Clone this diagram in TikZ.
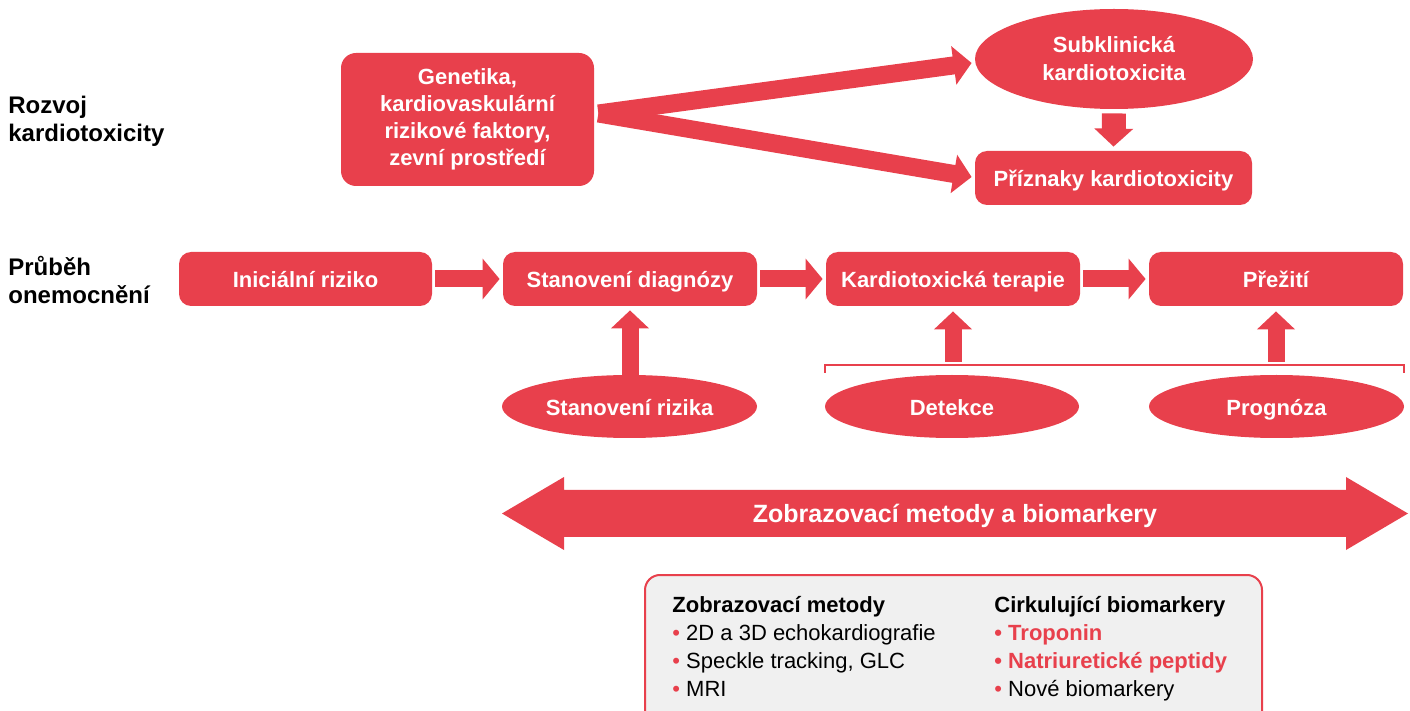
\documentclass[tikz,border=0pt]{standalone}
\usepackage{fontspec}
\setmainfont{Liberation Sans}
\usetikzlibrary{arrows.meta,shapes.geometric,calc}
\definecolor{kred}{RGB}{232,64,76}
\definecolor{kgray}{RGB}{240,240,240}
\begin{document}
\begin{tikzpicture}[x=0.5pt,y=-0.5pt,
  wfont/.style={font=\fontsize{11}{13.5}\selectfont\bfseries},
  oneline/.style={text height=11pt, text depth=2pt},
  rbox/.style={fill=kred, text=white, rounded corners=6pt, inner sep=0pt, align=center, wfont},
  rell/.style={ellipse, fill=kred, text=white, inner sep=0pt, align=center, wfont},
  lbl/.style={inner sep=0pt, align=left, font=\fontsize{12}{14}\selectfont\bfseries},
  btxt/.style={inner sep=0pt, align=left, font=\fontsize{11}{14}\selectfont},
  rowarr/.style={draw=kred, line width=8.5pt, -{Triangle[width=20pt,length=8.5pt]}, shorten <=1.5pt, shorten >=1.5pt},
  uparr/.style={draw=kred, line width=8.5pt, -{Triangle[width=18.5pt,length=9pt]}},
  downarr/.style={draw=kred, line width=12pt, -{Triangle[width=19pt,length=9pt]}, shorten <=2pt, shorten >=2pt},
  fanarr/.style={draw=kred, line width=9pt, -{Triangle[width=19pt,length=9pt]}},
]
\useasboundingbox (0,0) rectangle (1410,711);

% left labels
\node[lbl, anchor=west] (lab1) at (8,121) {Rozvoj\\kardiotoxicity};
\node[lbl, anchor=west] (lab2) at (8,280) {Průběh\\onemocnění};

% top part
\node[rbox, rounded corners=7.5pt, minimum width=126.5pt, minimum height=66.5pt] (gen) at (467.5,119.5)
  {Genetika,\\kardiovaskulární\\rizikové faktory,\\zevní prostředí};
\node[rell, font=\fontsize{11}{14}\selectfont\bfseries, minimum width=139pt, minimum height=50pt] (sub) at (1114,59) {Subklinická\\kardiotoxicita};
\node[rbox, oneline, minimum width=138.5pt, minimum height=27pt] (priz) at (1113.5,178) {Příznaky kardiotoxicity};

\coordinate (fanO) at ([shift={(2pt,3pt)}]gen.east);
\draw[fanarr] (fanO) -- ([shift={(-1.5pt,-2pt)}]sub.west);
\draw[fanarr] (fanO) -- ([shift={(-1.5pt,0.5pt)}]priz.west);
\draw[downarr] (sub.south) -- (priz.north);

% process row
\node[rbox, oneline, minimum width=126.5pt, minimum height=27pt] (ini) at (305.5,279) {Iniciální riziko};
\node[rbox, oneline, minimum width=127pt, minimum height=27pt] (diag) at (630,279) {Stanovení diagnózy};
\node[rbox, oneline, minimum width=127pt, minimum height=27pt] (kard) at (953,279) {Kardiotoxická terapie};
\node[rbox, oneline, minimum width=127pt, minimum height=27pt] (prez) at (1276,279) {Přežití};
\draw[rowarr] (ini) -- (diag);
\draw[rowarr] (diag) -- (kard);
\draw[rowarr] (kard) -- (prez);

% ellipses
\node[rell, oneline, minimum width=127.5pt, minimum height=31.5pt] (riz) at (629.5,406.5) {Stanovení rizika};
\node[rell, oneline, minimum width=127pt, minimum height=31.5pt] (det) at (952,406.5) {Detekce};
\node[rell, oneline, minimum width=127.5pt, minimum height=31.5pt] (prog) at (1276.5,406.5) {Prognóza};

\draw[uparr, shorten <=-1pt, shorten >=2pt] (riz.north -| diag.south) -- (diag.south);

% bracket
\coordinate (brL) at (825,365);
\coordinate (brR) at (1404,365);
\draw[kred, line width=1pt] ([yshift=-4pt]brL) -- (brL) -- (brR) -- ([yshift=-4pt]brR);
\draw[uparr, shorten >=2.5pt] ([yshift=1.5pt]kard.south |- brL) -- (kard.south);
\draw[uparr, shorten >=2.5pt] ([yshift=1.5pt]prez.south |- brL) -- (prez.south);

% big double arrow
\fill[kred] (502,513.5) -- (564,477) -- (564,490) -- (1346,490) -- (1346,477) -- (1408,513.5)
  -- (1346,550) -- (1346,537) -- (564,537) -- (564,550) -- cycle;
\node[text=white, inner sep=0pt, text height=10.5pt, text depth=2pt, font=\fontsize{12.5}{15}\selectfont\bfseries] (big) at (955,514)
  {Zobrazovací metody a biomarkery};

% bottom box
\draw[kred, line width=1pt, fill=kgray, rounded corners=7.5pt] (645,575) rectangle (1262,745);
\node[btxt, anchor=north west] (col1) at (672,596)
  {{\bfseries Zobrazovací metody}\\
   \textcolor{kred}{•} 2D a 3D echokardiografie\\
   \textcolor{kred}{•} Speckle tracking, GLC\\
   \textcolor{kred}{•} MRI};
\node[btxt, anchor=north west] (col2) at (994,596)
  {{\bfseries Cirkulující biomarkery}\\
   \textcolor{kred}{\bfseries • Troponin}\\
   \textcolor{kred}{\bfseries • Natriuretické peptidy}\\
   \textcolor{kred}{•} Nové biomarkery};
\end{tikzpicture}
\end{document}
